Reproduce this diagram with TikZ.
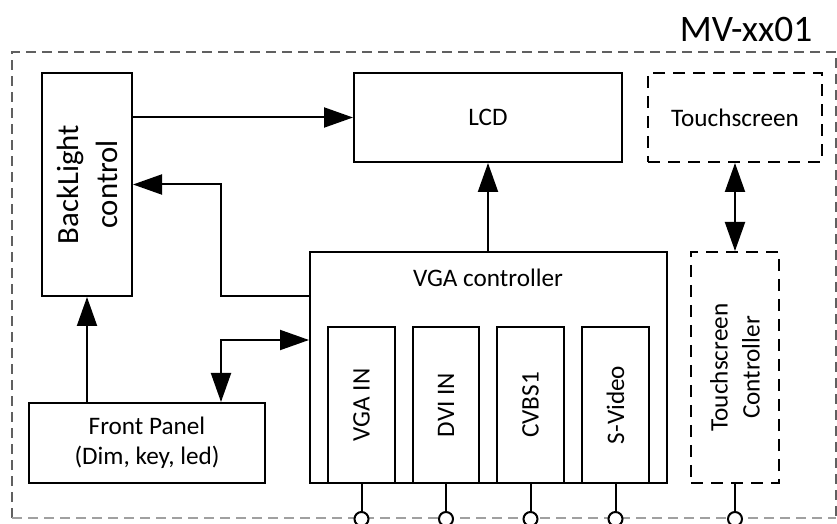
\documentclass[tikz,border=0pt]{standalone}
\usepackage{fontspec}
\setmainfont{Carlito}
\usetikzlibrary{arrows.meta,calc}
\definecolor{outerdark}{HTML}{606060}
\definecolor{outerlight}{HTML}{A0A0A0}
\tikzset{
  box/.style={draw, line width=1pt, rectangle, inner sep=0pt, align=center,
    font=\fontsize{12.6}{15}\selectfont},
  dbox/.style={box, dash pattern=on 6pt off 4pt},
  vtext/.style={rotate=90},
  arr/.style={line width=1pt, -{Triangle[length=14.5pt,width=10pt]}},
  darr/.style={line width=1pt, {Triangle[length=14.5pt,width=10pt]}-{Triangle[length=14.5pt,width=10pt]}},
  pinline/.style={line width=1pt},
  pinc/.style={draw, circle, line width=1pt, fill=white, minimum size=7pt, inner sep=0pt},
  outer/.style={line width=0.6pt, dash pattern=on 5pt off 3pt},
}
\begin{document}
\begin{tikzpicture}[x=0.5pt,y=-0.5pt]
\useasboundingbox (0,0) rectangle (837,524);
% outer dashed frame
\draw[outer, outerdark] (12,518) -- (12,52) -- (836,52) -- (836,518);
\draw[outer, outerlight] (12,518) -- (836,518);
\node[anchor=base, font=\fontsize{18.7}{22}\selectfont] (title) at (746,42) {MV-xx01};
% boxes
\node[box, minimum width=45pt, minimum height=111.5pt] (bl) at (87,184.5) {};
\node[rotate=90, align=center, font=\fontsize{15.4}{19.5}\selectfont] (bltext) at (bl.center) {BackLight\\control};
\node[box, minimum width=134pt, minimum height=44.5pt] (lcd) at (488,117.5) {LCD};
\node[dbox, minimum width=87pt, minimum height=44.5pt] (ts) at (735,117.5) {Touchscreen};
\node[box, minimum width=178.5pt, minimum height=115.5pt] (vga) at (488.5,367.5) {};
\node[font=\fontsize{12.6}{15}\selectfont] (vgatext) at (488,278) {VGA controller};
\node[box, minimum width=33.5pt, minimum height=78pt] (vgain) at (361.5,405) {};
\node[vtext, font=\fontsize{12.6}{15}\selectfont] (vgaint) at (vgain.center) {VGA IN};
\node[box, minimum width=33pt, minimum height=78pt] (dvi) at (446,405) {};
\node[vtext, font=\fontsize{12.6}{15}\selectfont] (dvit) at (dvi.center) {DVI IN};
\node[box, minimum width=33.5pt, minimum height=78pt] (cvbs) at (530.5,405) {};
\node[vtext, font=\fontsize{12.6}{15}\selectfont] (cvbst) at (cvbs.center) {CVBS1};
\node[box, minimum width=33.5pt, minimum height=78pt] (svid) at (615.5,405) {};
\node[vtext, font=\fontsize{12.6}{15}\selectfont] (svidt) at (svid.center) {S-Video};
\node[dbox, minimum width=44pt, minimum height=115.5pt] (tsc) at (735,367.5) {};
\node[vtext, align=center, font=\fontsize{12.6}{16}\selectfont] (tsct) at (tsc.center) {Touchscreen\\Controller};
\node[box, minimum width=118pt, minimum height=40pt, font=\fontsize{12.6}{15}\selectfont] (fp) at (147,443) {Front Panel\\(Dim, key, led)};
% connectors
\draw[arr] (bl.east |- lcd.west) -- (lcd.west);
\coordinate (c1) at (221,296);
\draw[arr] (vga.west |- c1) -- (c1) |- (bl.east);
\draw[arr] (vga.north -| lcd.south) -- (lcd.south);
\draw[darr] (ts.south) -- (tsc.north);
\draw[arr] (fp.north -| bl.south) -- (bl.south);
\coordinate (c2) at (221,340);
\draw[darr] (fp.north -| c2) -- (c2) -- (vga.west |- c2);
% pins
\node[pinc] (p1) at (361.5,519) {};
\node[pinc] (p2) at (446,519) {};
\node[pinc] (p3) at (530.5,519) {};
\node[pinc] (p4) at (615.5,519) {};
\node[pinc] (p5) at (735,519) {};
\draw[pinline] (vgain.south) -- (p1.north);
\draw[pinline] (dvi.south) -- (p2.north);
\draw[pinline] (cvbs.south) -- (p3.north);
\draw[pinline] (svid.south) -- (p4.north);
\draw[pinline] (tsc.south) -- (p5.north);
\end{tikzpicture}
\end{document}
